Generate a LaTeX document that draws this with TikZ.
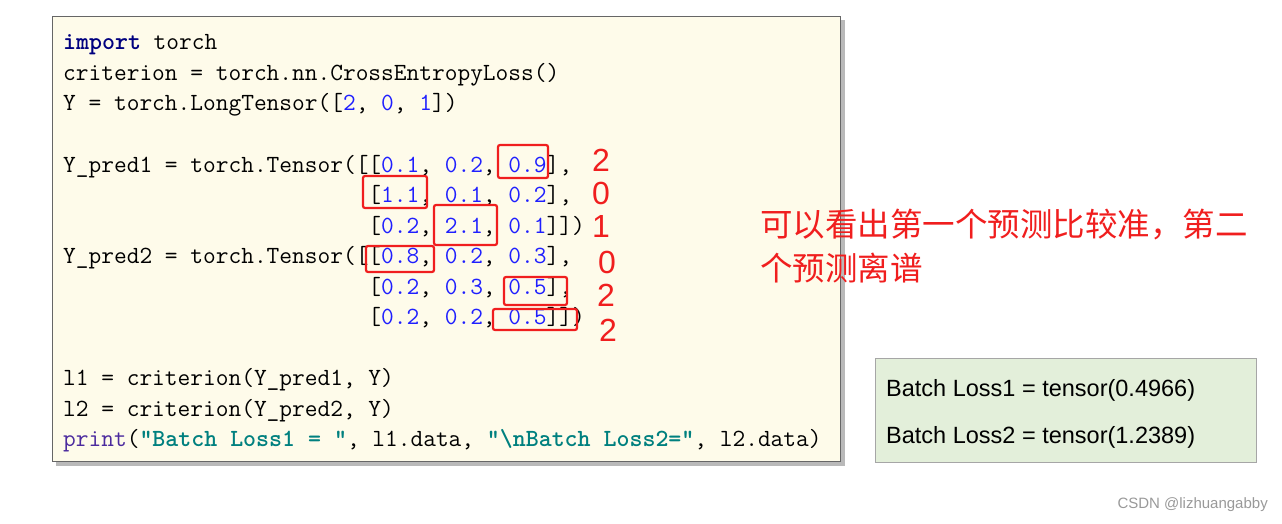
\documentclass[tikz,border=0pt]{standalone}
\usepackage{fontspec}
\newfontfamily\cjk{Noto Sans CJK SC}
\newfontfamily\lsans{Liberation Sans}
\definecolor{cream}{HTML}{FEFBEA}
\definecolor{kw}{HTML}{00007F}
\definecolor{num}{HTML}{1F1FFF}
\definecolor{str}{HTML}{00807F}
\definecolor{fn}{HTML}{4B2A9E}
\definecolor{gfill}{HTML}{E3EFDA}
\definecolor{redc}{HTML}{F01E1E}
\newcommand{\N}[1]{\textcolor{num}{#1}}
\newcommand{\St}[1]{\textcolor{str}{\bfseries #1}}
\newcommand{\Ind}{\hphantom{Y\_pred1 = torch.Tensor([}}
\begin{document}
\begin{tikzpicture}[x=1pt,y=-1pt,
  code/.style={anchor=base west,inner sep=0,font=\ttfamily\fontsize{24.7}{24}\selectfont},
  rbox/.style={draw=redc,line width=2.2pt,rounded corners=2pt},
  rnum/.style={text=redc,font=\lsans\fontsize{32}{32}\selectfont,inner sep=0},
  gtext/.style={anchor=west,inner sep=0,font=\lsans\fontsize{23.5}{23.5}\selectfont}]
\useasboundingbox (0,0) rectangle (1282,524);
\fill[gray!55] (56,20) rectangle (845,466);
\node[draw=gray!80!black,fill=cream,minimum width=788,minimum height=445,anchor=north west,inner sep=0] (codebox) at (52,16) {};
\foreach \i/\t in {
 0/{\textcolor{kw}{\bfseries import} torch},
 1/{criterion = torch.nn.CrossEntropyLoss()},
 2/{Y = torch.LongTensor([\N{2}, \N{0}, \N{1}])},
 4/{Y\_pred1 = torch.Tensor([[\N{0.1}, \N{0.2}, \N{0.9}],},
 5/{\Ind[\N{1.1}, \N{0.1}, \N{0.2}],},
 6/{\Ind[\N{0.2}, \N{2.1}, \N{0.1}]])},
 7/{Y\_pred2 = torch.Tensor([[\N{0.8}, \N{0.2}, \N{0.3}],},
 8/{\Ind[\N{0.2}, \N{0.3}, \N{0.5}],},
 9/{\Ind[\N{0.2}, \N{0.2}, \N{0.5}]])},
 11/{l1 = criterion(Y\_pred1, Y)},
 12/{l2 = criterion(Y\_pred2, Y)},
 13/{\textcolor{fn}{print}(\St{"Batch Loss1 = "}, l1.data, \St{"\textbackslash nBatch Loss2="}, l2.data)}}
 \node[code] (line\i) at (63,{50+30.5*\i}) {\t};
\draw[rbox] (498,145) rectangle (548,178);
\draw[rbox] (363,176) rectangle (427,208);
\draw[rbox] (434,205) rectangle (497,245);
\draw[rbox] (366,246) rectangle (434,272);
\draw[rbox] (504,277) rectangle (567,305);
\draw[rbox] (493,309) rectangle (577,330);
\node[rnum] (r1) at (601,160) {2};
\node[rnum] (r2) at (601,193) {0};
\node[rnum] (r3) at (601,226) {1};
\node[rnum] (r4) at (607,262) {0};
\node[rnum] (r5) at (606,295) {2};
\node[rnum] (r6) at (608,330) {2};
\node[anchor=west,inner sep=0,text=redc,font=\cjk\fontsize{32.5}{32.5}\selectfont] (note1) at (760,225) {可以看出第一个预测比较准，第二};
\node[anchor=west,inner sep=0,text=redc,font=\cjk\fontsize{32.5}{32.5}\selectfont] (note2) at (760,268) {个预测离谱};
\node[draw=gray!70,fill=gfill,minimum width=381,minimum height=104,anchor=north west,inner sep=0] (gbox) at (875,358) {};
\node[gtext] (b1) at (886,390) {Batch Loss1 = tensor(0.4966)};
\node[gtext] (b2) at (886,437) {Batch Loss2 = tensor(1.2389)};
\node[anchor=east,inner sep=0,text=gray!80,font=\lsans\fontsize{15}{15}\selectfont] (wm) at (1268,505) {CSDN @lizhuangabby};
\end{tikzpicture}
\end{document}
